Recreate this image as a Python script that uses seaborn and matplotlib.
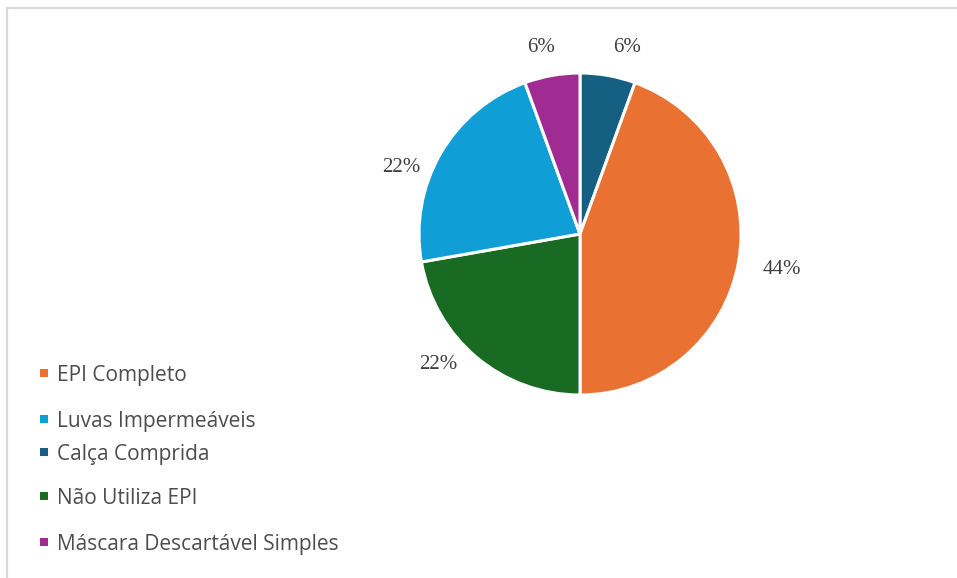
import matplotlib
matplotlib.use("Agg")
import matplotlib.pyplot as plt
from matplotlib.lines import Line2D
from matplotlib.patches import Rectangle
import seaborn as sns

# Survey answers (respondent counts), clockwise from 12 o'clock
categories = ["Calça Comprida", "EPI Completo", "Não Utiliza EPI",
              "Luvas Impermeáveis", "Máscara Descartável Simples"]
counts = [1, 8, 4, 4, 1]
colors = ["#156082", "#E97132", "#196B24", "#0F9ED5", "#A02B93"]

# Order the legend lists the categories in
legend_order = ["EPI Completo", "Luvas Impermeáveis", "Calça Comprida",
                "Não Utiliza EPI", "Máscara Descartável Simples"]

sns.set_theme(style="white")
plt.rcParams["font.family"] = ["Open Sans", "DejaVu Sans"]

W, H = 957, 578
fig = plt.figure(figsize=(W / 100, H / 100), dpi=100)
fig.patch.set_facecolor("white")

# Pie axes: center (580, 234) px, radius 161 px
cx, cy, r = 580, 234, 161
ax = fig.add_axes([(cx - r) / W, (H - cy - r) / H, 2 * r / W, 2 * r / H])

palette = sns.color_palette(colors)
wedges, texts, autotexts = ax.pie(
    counts, colors=palette, startangle=90, counterclock=False,
    autopct=lambda p: f"{p:.0f}%", pctdistance=1.2,
    wedgeprops=dict(edgecolor="white", linewidth=2.2),
    textprops=dict(family="Liberation Serif", fontsize=15, color="#404040"),
)

# Outside label placement (in units of the pie radius), per slice
label_xy = [(0.29, 1.16), (1.255, -0.22), (-0.88, -0.81), (-1.11, 0.41), (-0.24, 1.16)]
for t, xy in zip(autotexts, label_xy):
    t.set_position(xy)

ax.set_xlim(-1, 1)
ax.set_ylim(-1, 1)
ax.set_aspect("equal")
ax.axis("off")

# Legend entries on the left
legend_rows = [373, 419, 452, 496, 542]
color_of = dict(zip(categories, colors))
for name, ypx in zip(legend_order, legend_rows):
    fig.patches.append(Rectangle((40 / W, (H - ypx - 4) / H), 8 / W, 8 / H,
                                 transform=fig.transFigure, facecolor=color_of[name],
                                 edgecolor="none"))
    fig.text(57 / W, (H - ypx) / H, name, ha="left", va="center_baseline",
             fontsize=15, color="#4d4d4d")

# Light frame lines along the top and left edges
fig.add_artist(Line2D([7 / W, 1], [1 - 8 / H, 1 - 8 / H], transform=fig.transFigure,
                      color="#d9d9d9", linewidth=1.6))
fig.add_artist(Line2D([7 / W, 7 / W], [0, 1 - 8 / H], transform=fig.transFigure,
                      color="#d9d9d9", linewidth=1.6))

fig.savefig("out.png", dpi=100)
